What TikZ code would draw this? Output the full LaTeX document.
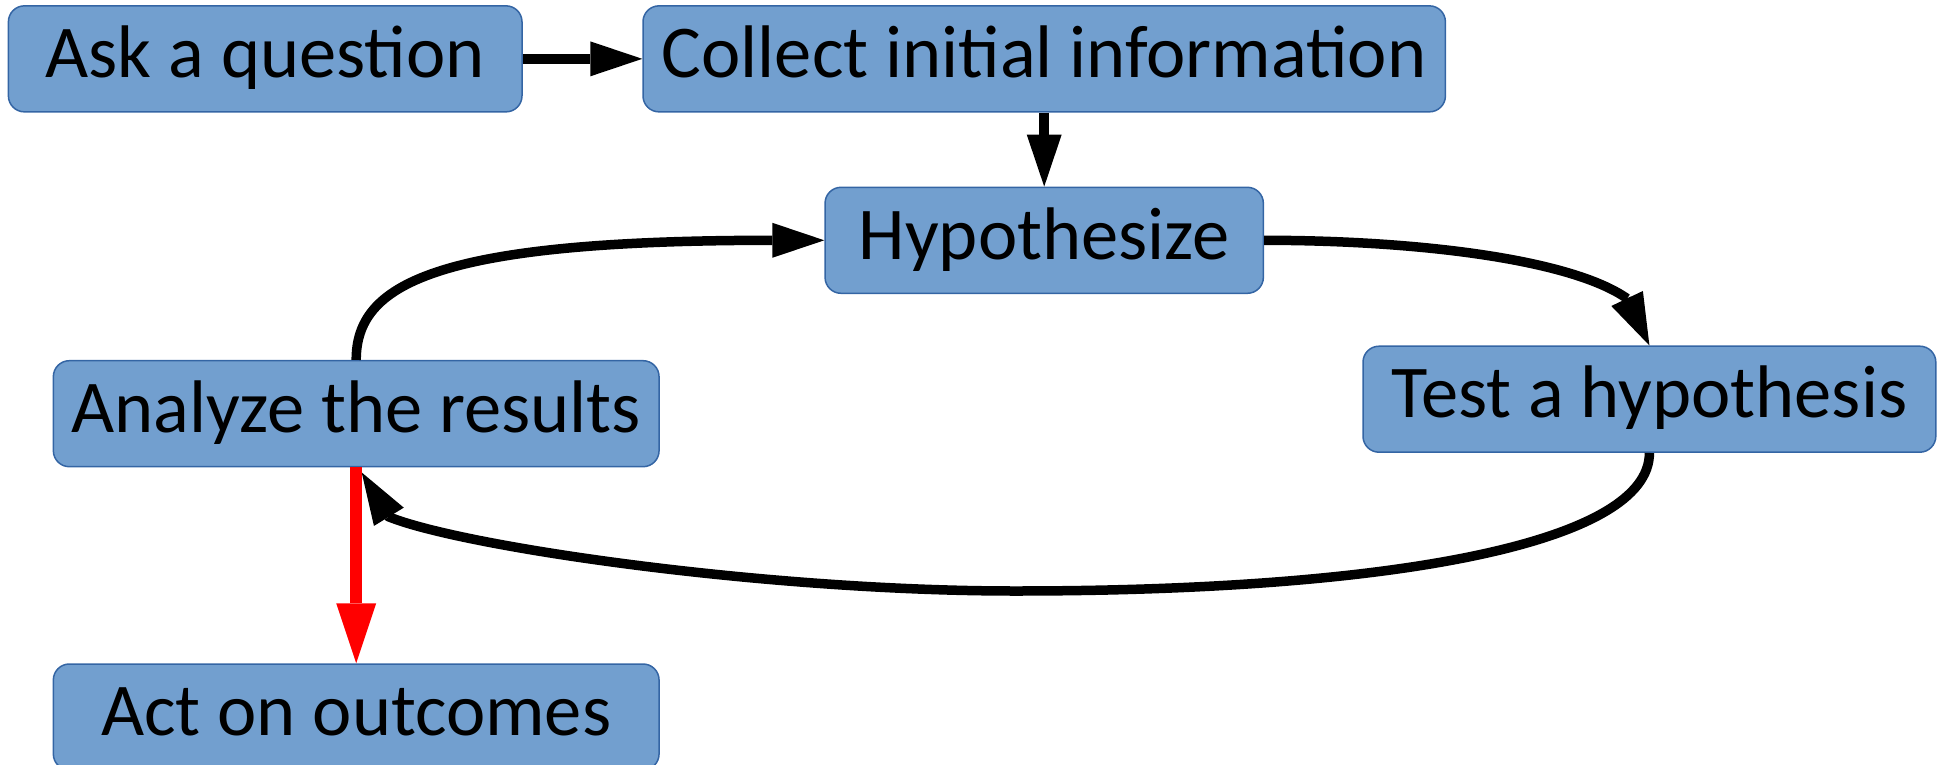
\documentclass[tikz,border=0pt]{standalone}
\usepackage{fontspec}
\setmainfont{Carlito}
\usetikzlibrary{arrows.meta}

\definecolor{boxfill}{HTML}{729FCF}
\definecolor{boxline}{HTML}{3465A4}

\tikzset{
  stepbox/.style={
    draw=boxline, line width=1.5pt, fill=boxfill,
    rounded corners=16pt, inner sep=0pt,
    minimum height=106pt,
    font=\fontsize{74.5}{88}\selectfont,
    text height=51.5pt, text depth=14pt
  },
  flow/.style={
    line width=9.5pt, draw=black,
    -{Triangle[length=52pt,width=35pt,line width=0pt]}
  },
  exitflow/.style={
    line width=12pt, draw=red,
    -{Triangle[length=60pt,width=40pt,line width=0pt]}
  }
}

\begin{document}
\begin{tikzpicture}[x=1pt,y=-1pt]
  \useasboundingbox (0,0) rectangle (1942,765);
  \clip (0,0) rectangle (1942,765);

  % process steps
  \node[stepbox, minimum width=513.6pt] (ask)     at (265.2,58.85)  {Ask a question};
  \node[stepbox, minimum width=802.4pt] (collect) at (1044.2,58.85) {Collect initial information};
  \node[stepbox, minimum width=438.3pt] (hyp)     at (1044.2,240.3) {Hypothesize};
  \node[stepbox, minimum width=572.8pt] (test)    at (1649.4,399.2) {Test a hypothesis};
  \node[stepbox, minimum width=605.7pt] (analyze) at (356.2,413.7)  {Analyze the results};
  \node[stepbox, minimum width=605.7pt] (act)     at (356.2,717)    {Act on outcomes};

  % helper points: the curved connectors end in a short straight run
  % that the arrow head covers
  \coordinate (testin)     at ([shift={(-22.3,-46.9)}]test.north);
  \coordinate (hypin)      at ([xshift=-52pt]hyp.west);
  \coordinate (loopbottom) at (1015,591);
  \coordinate (loopend)    at ([xshift=5.5pt,yshift=-5pt]analyze.south);
  \coordinate (loopin)     at ([shift={(27.2,44.4)}]loopend);

  % straight steps
  \draw[flow] (ask.east) -- (collect.west);
  \draw[flow] (collect.south) -- (hyp.north);

  % the cycle
  \draw[flow] (hyp.east) .. controls +(150,0) and +(-57,-40) .. (testin)
              -- (test.north);
  \draw[flow] (test.south) .. controls +(0,90) and +(380,0) .. (loopbottom)
              .. controls +(-250,0) and +(74,30) .. (loopin) -- (loopend);
  \draw[flow] (analyze.north) .. controls +(0,-75) and +(-340,0) .. (hypin)
              -- (hyp.west);

  % leaving the cycle
  \draw[exitflow] (analyze.south) -- (act.north);
\end{tikzpicture}
\end{document}
